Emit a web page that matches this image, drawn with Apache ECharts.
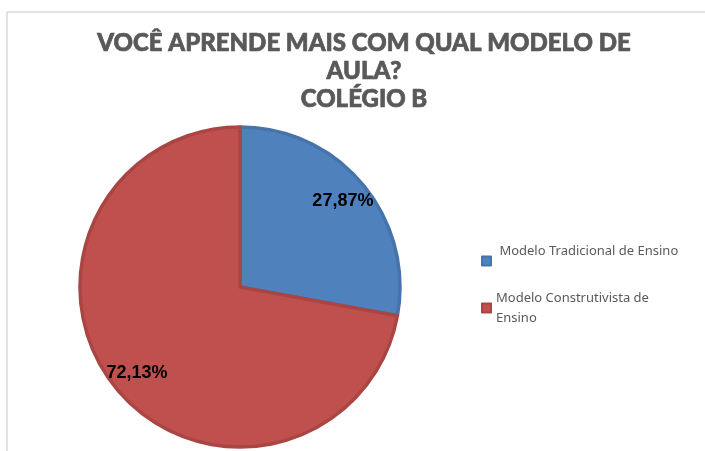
<!DOCTYPE html>
<html>
<head>
<meta charset="utf-8">
<script src="https://cdn.jsdelivr.net/npm/echarts@6/dist/echarts.min.js"></script>
<style>
html, body { margin: 0; padding: 0; background: #fff; }
#myChart { width: 705px; height: 451px; }
</style>
</head>
<body>
<div id="myChart"></div>
<script>
// data
const categories = ['Modelo Tradicional de Ensino', 'Modelo Construtivista de Ensino']
const values = [27.87, 72.13]
const colors = ['#4f81bd', '#c0504d']
const borders = ['#4673aa', '#a94643']

const myChart = echarts.init(document.getElementById('myChart'), null, { renderer: 'canvas' })

const pieData = categories.map((name, i) => ({
  name: name,
  value: values[i],
  itemStyle: { color: colors[i], borderColor: borders[i] },
}))

myChart.setOption({
  animation: false,
  title: {
    text: 'VOCÊ APRENDE MAIS COM QUAL MODELO DE\nAULA?\nCOLÉGIO B',
    left: 364,
    top: 29,
    padding: 0,
    textAlign: 'center',
    textStyle: {
      fontFamily: 'Lato',
      fontWeight: 900,
      fontSize: 24,
      lineHeight: 28,
      color: '#595959',
      textBorderColor: '#595959',
      textBorderWidth: 0.7,
    },
  },
  legend: {
    orient: 'vertical',
    left: 481,
    top: 231,
    padding: 0,
    itemWidth: 9,
    itemHeight: 9,
    itemGap: -13,
    icon: 'rect',
    data: categories,
    formatter: function (name) {
      if (name === categories[1]) return 'Modelo Construtivista de\nEnsino'
      return ' ' + name + '\n '
    },
    textStyle: {
      fontFamily: 'Noto Sans',
      fontSize: 13,
      lineHeight: 20,
      color: '#595959',
      padding: [20, 0, 0, 0],
    },
  },
  graphic: [
    { type: 'line', shape: { x1: 7, y1: 12, x2: 705, y2: 12 }, style: { stroke: '#d9d9d9', lineWidth: 1.5 } },
    { type: 'line', shape: { x1: 7, y1: 12, x2: 7, y2: 451 }, style: { stroke: '#d9d9d9', lineWidth: 1.5 } },
  ],
  series: [
    {
      name: 'Colégio B',
      type: 'pie',
      center: [240, 287],
      radius: [0, 160],
      startAngle: 90,
      clockwise: true,
      silent: true,
      label: { show: false },
      labelLine: { show: false },
      itemStyle: { borderWidth: 3.5 },
      data: pieData,
    },
    {
      // transparent copy, only used to put the labels at ~0.8 of the radius
      name: 'labels',
      type: 'pie',
      center: [240, 287],
      radius: [0, 262],
      startAngle: 90,
      clockwise: true,
      silent: true,
      legendHoverLink: false,
      itemStyle: { color: 'rgba(0,0,0,0)', borderWidth: 0 },
      label: {
        show: true,
        position: 'inside',
        formatter: function (p) { return p.value.toFixed(2).replace('.', ',') + '%' },
        fontFamily: 'Liberation Sans',
        fontWeight: 'bold',
        fontSize: 18,
        color: '#000',
      },
      labelLine: { show: false },
      data: categories.map((name, i) => ({ name: name, value: values[i] })),
    },
  ],
})
</script>
</body>
</html>
